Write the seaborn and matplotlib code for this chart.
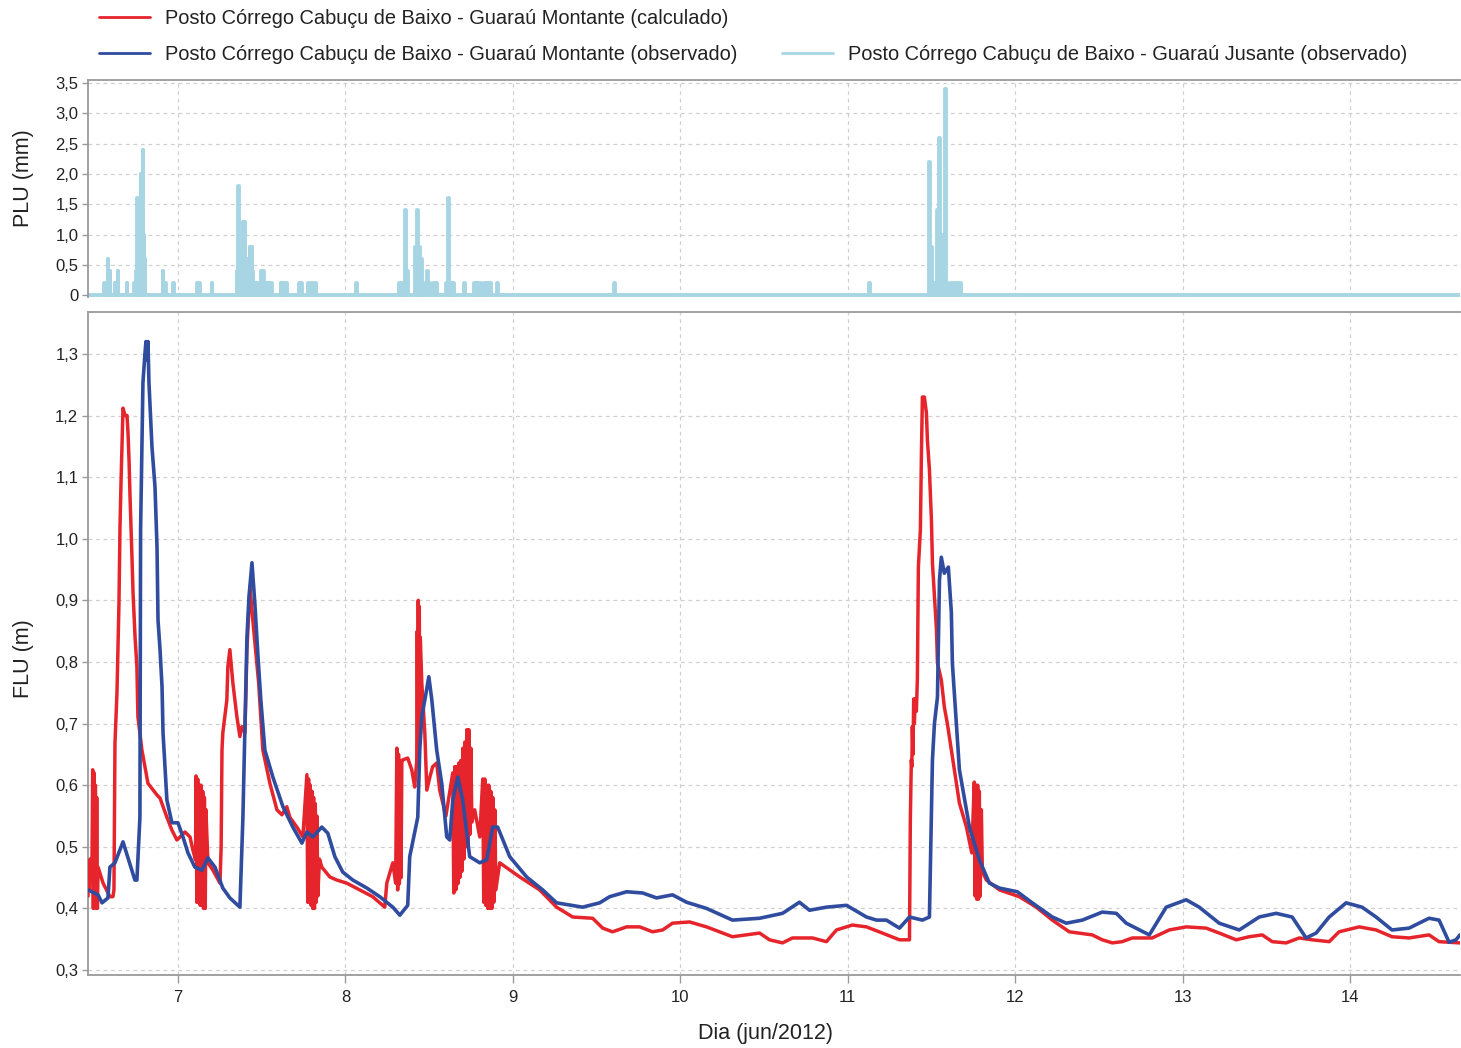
import matplotlib
matplotlib.use("Agg")
import matplotlib.pyplot as plt
from matplotlib.ticker import FuncFormatter
from matplotlib.lines import Line2D
import seaborn as sns
import pandas as pd

# ---------------- data ----------------
label_calc = "Posto Córrego Cabuçu de Baixo - Guaraú Montante (calculado)"
label_obs = "Posto Córrego Cabuçu de Baixo - Guaraú Montante (observado)"
label_rain = "Posto Córrego Cabuçu de Baixo - Guaraú Jusante (observado)"

# rain (PLU, mm) at Guaraú Jusante : day of June 2012, value
rain_day = [6.564, 6.582, 6.594, 6.624, 6.642, 6.696, 6.743, 6.755, 6.761, 6.773,
            6.779, 6.791, 6.797, 6.803, 6.911, 6.928, 6.976, 7.119, 7.131, 7.203,
            7.358, 7.364, 7.376, 7.388, 7.400, 7.412, 7.424, 7.430, 7.442, 7.447,
            7.459, 7.477, 7.501, 7.513, 7.531, 7.549, 7.561, 7.615, 7.632, 7.650,
            7.728, 7.740, 7.782, 7.800, 7.823, 8.068, 8.325, 8.342, 8.360, 8.372,
            8.420, 8.432, 8.444, 8.456, 8.468, 8.492, 8.504, 8.527, 8.545, 8.605,
            8.617, 8.635, 8.647, 8.712, 8.772, 8.790, 8.808, 8.832, 8.850, 8.868,
            8.909, 9.607, 11.129, 11.487, 11.499, 11.511, 11.523, 11.535, 11.547, 11.558,
            11.570, 11.582, 11.594, 11.618, 11.636, 11.654, 11.672]
rain_mm = [0.2, 0.6, 0.4, 0.2, 0.4, 0.2, 0.2, 0.4, 1.6, 1.2,
           2.0, 2.4, 1.0, 0.6, 0.4, 0.2, 0.2, 0.2, 0.2, 0.2,
           0.4, 1.8, 0.8, 1.2, 1.2, 0.6, 0.4, 0.8, 0.8, 0.4,
           0.2, 0.2, 0.4, 0.4, 0.2, 0.2, 0.2, 0.2, 0.2, 0.2,
           0.2, 0.2, 0.2, 0.2, 0.2, 0.2, 0.2, 0.2, 1.4, 0.4,
           0.8, 1.4, 0.8, 0.6, 0.2, 0.4, 0.2, 0.2, 0.2, 0.2,
           1.6, 0.2, 0.2, 0.2, 0.2, 0.2, 0.2, 0.2, 0.2, 0.2,
           0.2, 0.2, 0.2, 2.2, 0.8, 0.2, 0.2, 1.4, 2.6, 1.0,
           1.0, 3.4, 0.2, 0.2, 0.2, 0.2, 0.2]
rain_start, rain_end = 6.463, 14.655

# calculated level (FLU, m) at Guaraú Montante
calc_day = [6.463, 6.467, 6.471, 6.475, 6.481, 6.487, 6.491, 6.495, 6.499, 6.503,
            6.507, 6.511, 6.515, 6.519, 6.523, 6.553, 6.594, 6.612, 6.618, 6.624,
            6.636, 6.642, 6.648, 6.654, 6.660, 6.666, 6.672, 6.684, 6.696, 6.702,
            6.708, 6.714, 6.720, 6.726, 6.732, 6.744, 6.755, 6.761, 6.785, 6.821,
            6.875, 6.893, 6.934, 6.964, 6.994, 7.042, 7.072, 7.089, 7.105, 7.108,
            7.113, 7.118, 7.123, 7.128, 7.133, 7.138, 7.143, 7.148, 7.153, 7.158,
            7.163, 7.167, 7.179, 7.209, 7.251, 7.258, 7.263, 7.268, 7.292, 7.298,
            7.310, 7.328, 7.352, 7.370, 7.382, 7.400, 7.406, 7.412, 7.430, 7.447,
            7.471, 7.482, 7.507, 7.549, 7.591, 7.621, 7.650, 7.668, 7.710, 7.746,
            7.770, 7.775, 7.780, 7.785, 7.790, 7.795, 7.800, 7.805, 7.810, 7.815,
            7.820, 7.825, 7.830, 7.835, 7.845, 7.859, 7.907, 7.949, 8.008, 8.086,
            8.163, 8.235, 8.247, 8.283, 8.300, 8.307, 8.312, 8.317, 8.322, 8.327,
            8.332, 8.337, 8.342, 8.372, 8.396, 8.414, 8.420, 8.426, 8.429, 8.432,
            8.435, 8.438, 8.441, 8.444, 8.447, 8.456, 8.474, 8.486, 8.504, 8.521,
            8.545, 8.563, 8.600, 8.641, 8.647, 8.653, 8.659, 8.665, 8.671, 8.677,
            8.683, 8.689, 8.695, 8.701, 8.707, 8.713, 8.719, 8.725, 8.731, 8.737,
            8.743, 8.749, 8.755, 8.772, 8.802, 8.820, 8.826, 8.832, 8.838, 8.844,
            8.850, 8.856, 8.862, 8.868, 8.874, 8.880, 8.886, 8.892, 8.898, 8.921,
            9.041, 9.160, 9.261, 9.357, 9.476, 9.536, 9.595, 9.679, 9.757, 9.834,
            9.894, 9.953, 10.055, 10.156, 10.311, 10.473, 10.532, 10.610, 10.669, 10.789,
            10.872, 10.932, 11.027, 11.111, 11.206, 11.308, 11.368, 11.373, 11.379, 11.382,
            11.385, 11.389, 11.393, 11.397, 11.403, 11.409, 11.415, 11.421, 11.433, 11.439,
            11.445, 11.457, 11.469, 11.475, 11.487, 11.499, 11.505, 11.517, 11.529, 11.535,
            11.558, 11.576, 11.594, 11.666, 11.708, 11.740, 11.755, 11.760, 11.765, 11.770,
            11.775, 11.780, 11.785, 11.790, 11.797, 11.803, 11.827, 11.905, 12.024, 12.125,
            12.221, 12.322, 12.459, 12.519, 12.579, 12.638, 12.698, 12.817, 12.919, 13.020,
            13.139, 13.217, 13.319, 13.396, 13.474, 13.534, 13.617, 13.695, 13.772, 13.874,
            13.933, 14.053, 14.154, 14.249, 14.351, 14.470, 14.530, 14.655]
calc_m = [0.42, 0.47, 0.43, 0.48, 0.46, 0.48, 0.625, 0.40, 0.62, 0.41,
          0.60, 0.40, 0.58, 0.40, 0.467, 0.441, 0.419, 0.419, 0.43, 0.668,
          0.75, 0.82, 0.896, 1.019, 1.09, 1.149, 1.212, 1.20, 1.20, 1.171,
          1.128, 1.068, 1.019, 0.966, 0.912, 0.84, 0.792, 0.711, 0.657, 0.603,
          0.584, 0.579, 0.548, 0.527, 0.511, 0.524, 0.516, 0.495, 0.479, 0.615,
          0.41, 0.61, 0.41, 0.60, 0.405, 0.60, 0.405, 0.59, 0.40, 0.58,
          0.40, 0.56, 0.474, 0.462, 0.441, 0.50, 0.657, 0.685, 0.738, 0.792,
          0.82, 0.766, 0.711, 0.679, 0.695, 0.685, 0.75, 0.82, 0.922, 0.868,
          0.798, 0.766, 0.657, 0.603, 0.56, 0.552, 0.565, 0.548, 0.532, 0.516,
          0.617, 0.41, 0.61, 0.41, 0.60, 0.405, 0.59, 0.40, 0.58, 0.40,
          0.57, 0.41, 0.55, 0.42, 0.48, 0.467, 0.451, 0.446, 0.441, 0.43,
          0.419, 0.402, 0.441, 0.474, 0.441, 0.66, 0.43, 0.65, 0.44, 0.64,
          0.45, 0.64, 0.641, 0.644, 0.625, 0.597, 0.62, 0.64, 0.85, 0.66,
          0.90, 0.68, 0.89, 0.70, 0.84, 0.766, 0.685, 0.592, 0.613, 0.63,
          0.636, 0.592, 0.55, 0.62, 0.425, 0.63, 0.43, 0.63, 0.44, 0.636,
          0.45, 0.64, 0.46, 0.66, 0.48, 0.67, 0.50, 0.69, 0.50, 0.69,
          0.52, 0.66, 0.54, 0.56, 0.516, 0.61, 0.41, 0.61, 0.405, 0.60,
          0.40, 0.60, 0.40, 0.59, 0.40, 0.58, 0.41, 0.56, 0.43, 0.474,
          0.451, 0.43, 0.402, 0.386, 0.384, 0.368, 0.362, 0.37, 0.37, 0.362,
          0.365, 0.376, 0.378, 0.37, 0.354, 0.36, 0.349, 0.344, 0.352, 0.352,
          0.346, 0.365, 0.373, 0.37, 0.36, 0.349, 0.349, 0.543, 0.641, 0.63,
          0.695, 0.65, 0.74, 0.70, 0.74, 0.72, 0.771, 0.954, 1.014, 1.133,
          1.23, 1.23, 1.204, 1.16, 1.112, 1.03, 0.961, 0.906, 0.852, 0.798,
          0.771, 0.727, 0.70, 0.571, 0.532, 0.49, 0.605, 0.42, 0.60, 0.415,
          0.60, 0.415, 0.59, 0.42, 0.56, 0.46, 0.446, 0.43, 0.419, 0.402,
          0.381, 0.362, 0.357, 0.349, 0.344, 0.346, 0.352, 0.352, 0.365, 0.37,
          0.368, 0.36, 0.349, 0.354, 0.357, 0.346, 0.344, 0.352, 0.349, 0.346,
          0.362, 0.37, 0.365, 0.354, 0.352, 0.357, 0.346, 0.344]

# observed level (FLU, m) at Guaraú Montante
obs_day = [6.463, 6.523, 6.547, 6.582, 6.594, 6.624, 6.672, 6.743, 6.755, 6.773,
           6.777, 6.785, 6.791, 6.803, 6.809, 6.815, 6.821, 6.827, 6.845, 6.863,
           6.875, 6.881, 6.893, 6.905, 6.911, 6.934, 6.964, 7.000, 7.030, 7.060,
           7.101, 7.143, 7.179, 7.221, 7.268, 7.310, 7.370, 7.388, 7.406, 7.412,
           7.424, 7.442, 7.459, 7.480, 7.495, 7.519, 7.567, 7.627, 7.686, 7.740,
           7.770, 7.805, 7.859, 7.895, 7.937, 7.984, 8.044, 8.128, 8.205, 8.283,
           8.325, 8.372, 8.384, 8.432, 8.444, 8.456, 8.474, 8.498, 8.516, 8.545,
           8.575, 8.605, 8.623, 8.641, 8.671, 8.700, 8.742, 8.802, 8.844, 8.879,
           8.909, 8.981, 9.082, 9.178, 9.261, 9.416, 9.518, 9.578, 9.679, 9.775,
           9.858, 9.953, 10.037, 10.156, 10.311, 10.473, 10.610, 10.711, 10.771, 10.872,
           10.992, 11.111, 11.171, 11.230, 11.308, 11.368, 11.445, 11.487, 11.505, 11.517,
           11.535, 11.547, 11.558, 11.576, 11.600, 11.618, 11.624, 11.648, 11.666, 11.726,
           11.785, 11.845, 11.905, 12.012, 12.101, 12.221, 12.304, 12.400, 12.519, 12.603,
           12.662, 12.800, 12.901, 13.020, 13.098, 13.217, 13.337, 13.456, 13.557, 13.653,
           13.736, 13.796, 13.874, 13.975, 14.070, 14.154, 14.249, 14.351, 14.470, 14.530,
           14.590, 14.631, 14.655]
obs_m = [0.430, 0.422, 0.409, 0.417, 0.467, 0.474, 0.508, 0.446, 0.446, 0.548,
         1.014, 1.149, 1.253, 1.30, 1.32, 1.29, 1.32, 1.253, 1.149, 1.084,
         0.987, 0.868, 0.82, 0.76, 0.685, 0.576, 0.539, 0.539, 0.516, 0.49,
         0.467, 0.462, 0.482, 0.467, 0.433, 0.417, 0.402, 0.548, 0.766, 0.84,
         0.905, 0.961, 0.896, 0.80, 0.738, 0.657, 0.613, 0.565, 0.532, 0.506,
         0.524, 0.516, 0.532, 0.522, 0.484, 0.459, 0.446, 0.433, 0.419, 0.402,
         0.389, 0.405, 0.484, 0.548, 0.657, 0.711, 0.738, 0.776, 0.738, 0.657,
         0.603, 0.516, 0.511, 0.576, 0.613, 0.576, 0.484, 0.474, 0.479, 0.532,
         0.532, 0.484, 0.451, 0.43, 0.409, 0.402, 0.409, 0.419, 0.427, 0.425,
         0.417, 0.422, 0.41, 0.40, 0.381, 0.384, 0.392, 0.41, 0.397, 0.402,
         0.405, 0.386, 0.381, 0.381, 0.368, 0.386, 0.381, 0.386, 0.641, 0.70,
         0.743, 0.933, 0.97, 0.944, 0.954, 0.88, 0.798, 0.70, 0.625, 0.532,
         0.479, 0.441, 0.433, 0.427, 0.409, 0.386, 0.376, 0.381, 0.394, 0.392,
         0.376, 0.357, 0.402, 0.414, 0.402, 0.376, 0.365, 0.386, 0.392, 0.386,
         0.352, 0.36, 0.386, 0.409, 0.402, 0.386, 0.365, 0.368, 0.384, 0.381,
         0.345, 0.349, 0.357]

plu_ticks = [0, 0.5, 1.0, 1.5, 2.0, 2.5, 3.0, 3.5]
flu_ticks = [0.3, 0.4, 0.5, 0.6, 0.7, 0.8, 0.9, 1.0, 1.1, 1.2, 1.3]
day_ticks = [7, 8, 9, 10, 11, 12, 13, 14]

# ---------------- style ----------------
sns.set_theme(style="white")
plt.rcParams["font.family"] = ["Liberation Sans", "DejaVu Sans"]

C_RED = "#E5242B"
C_BLUE = "#2F4C9F"
C_LIGHT = "#A8D5E4"
C_SPINE = "#9A9A9A"
C_GRID = "#D0D0D0"
C_TEXT = "#222222"

fig = plt.figure(figsize=(14.61, 10.48), dpi=100)
ax_top = fig.add_axes([88 / 1461, 1 - 297 / 1048, 1372 / 1461, 217 / 1048])
ax_bot = fig.add_axes([88 / 1461, 1 - 975 / 1048, 1372 / 1461, 663 / 1048])

# rain series built as a step line from the events
rx, ry = [rain_start], [0.0]
hw = 0.0025
for d, v in zip(rain_day, rain_mm):
    rx += [d - hw, d - hw, d + hw, d + hw]
    ry += [0.0, v, v, 0.0]
rx.append(rain_end)
ry.append(0.0)
df_rain = pd.DataFrame({"dia": rx, "plu": ry})
sns.lineplot(data=df_rain, x="dia", y="plu", ax=ax_top, estimator=None, sort=False,
             color=C_LIGHT, lw=2.8, solid_joinstyle="round")

df_calc = pd.DataFrame({"dia": calc_day, "flu": calc_m})
df_obs = pd.DataFrame({"dia": obs_day, "flu": obs_m})
sns.lineplot(data=df_calc, x="dia", y="flu", ax=ax_bot, estimator=None, sort=False,
             color=C_RED, lw=2.5, zorder=3)
sns.lineplot(data=df_obs, x="dia", y="flu", ax=ax_bot, estimator=None, sort=False,
             color=C_BLUE, lw=2.6, zorder=4)

def comma_fmt(v, pos):
    if abs(v) < 1e-9:
        return "0"
    return f"{v:.1f}".replace(".", ",")

for ax in (ax_top, ax_bot):
    ax.set_xlim(rain_start, rain_end)
    ax.set_xticks(day_ticks)
    ax.grid(True, color=C_GRID, lw=0.9, ls=(0, (3, 3)))
    ax.set_axisbelow(True)
    for s in ax.spines.values():
        s.set_color(C_SPINE)
        s.set_linewidth(1.3)
    ax.spines["right"].set_visible(False)
    ax.yaxis.set_major_formatter(FuncFormatter(comma_fmt))
    ax.tick_params(axis="y", which="major", direction="out", length=4, width=1,
                   color=C_SPINE, labelsize=12, labelcolor=C_TEXT, pad=3, left=True)

ax_top.set_ylim(-0.03, 3.55)
ax_top.set_yticks(plu_ticks)
ax_top.spines["bottom"].set_visible(False)
ax_top.tick_params(axis="x", bottom=False, labelbottom=False)
ax_top.set_xlabel("")
ax_top.set_ylabel("PLU (mm)", fontsize=15.5, color=C_TEXT)
ax_top.yaxis.set_label_coords(-0.039, 0.55)

ax_bot.set_ylim(0.2919, 1.368)
ax_bot.set_yticks(flu_ticks)
ax_bot.set_xticklabels([str(t) for t in day_ticks])
ax_bot.tick_params(axis="x", direction="out", length=6, width=1, color=C_SPINE,
                   labelsize=12, labelcolor=C_TEXT, pad=5, bottom=True)
ax_bot.set_xlabel("Dia (jun/2012)", fontsize=15.5, color=C_TEXT)
ax_bot.xaxis.set_label_coords(0.494, -0.072)
ax_bot.set_ylabel("FLU (m)", fontsize=15.5, color=C_TEXT)
ax_bot.yaxis.set_label_coords(-0.039, 0.477)

handles = [Line2D([], [], color=C_RED, lw=2),
           Line2D([], [], color=C_BLUE, lw=2),
           Line2D([], [], color="none", lw=0),
           Line2D([], [], color=C_LIGHT, lw=2)]
labels = [label_calc, label_obs, "", label_rain]
fig.legend(handles, labels, ncol=2, loc="upper left",
           bbox_to_anchor=(99 / 1461, 1 - 9 / 1048), frameon=False,
           fontsize=14.4, handlelength=2.55, handletextpad=0.75,
           columnspacing=2.25, labelspacing=0.85, borderpad=0, borderaxespad=0,
           labelcolor=C_TEXT)

fig.savefig("out.png", dpi=100)
